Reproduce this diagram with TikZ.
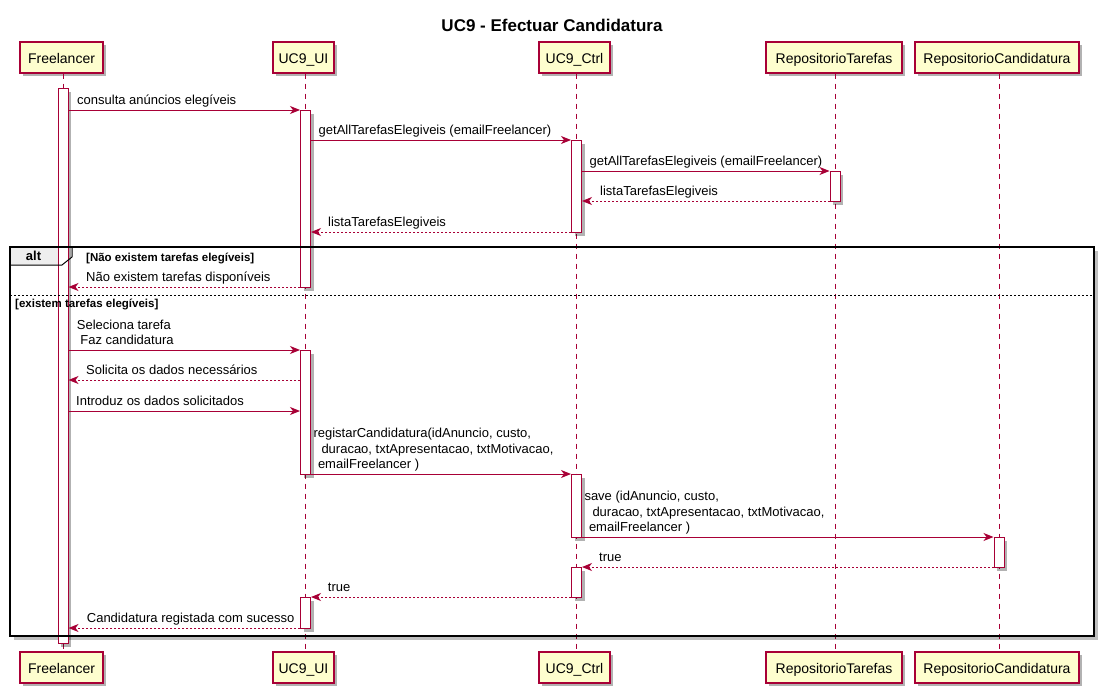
\documentclass[tikz,border=0pt]{standalone}
\usepackage{fontspec}
\setmainfont{Liberation Sans}
\usetikzlibrary{arrows.meta,shadows}
\definecolor{plum}{HTML}{A80036}
\definecolor{partfill}{HTML}{FEFECE}
\definecolor{tabfill}{HTML}{EEEEEE}
\newcommand{\actbar}[4]{\node[act, anchor=north, minimum height={#4-#3}] (#1) at (#2,#3) {};}
\begin{document}
\begin{tikzpicture}[x=1pt,y=-1pt,
  shad/.style={drop shadow={shadow xshift=3pt, shadow yshift=-3pt, opacity=0.3, fill=black}},
  part/.style={draw=plum, line width=1.2pt, fill=partfill, minimum height=31pt, inner sep=0pt,
    text height=11pt, text depth=0pt, font=\fontsize{14}{16}\selectfont, shad},
  act/.style={draw=plum, line width=1pt, fill=white, minimum width=10pt, inner sep=0pt, shad},
  life/.style={draw=plum, line width=0.9pt, dash pattern=on 5pt off 5pt},
  msg/.style={draw=plum, line width=1pt, -{Stealth[length=10pt,width=8pt,inset=3pt]}},
  ret/.style={msg, dash pattern=on 2pt off 2pt},
  lbl/.style={font=\fontsize{13}{15.5}\selectfont, inner sep=0pt, anchor=south west, align=left},
  guard/.style={font=\bfseries\fontsize{11.5}{13}\selectfont, inner sep=0pt, anchor=base west}
]
\useasboundingbox (0,0) rectangle (1106,696);

% title
\node[font=\bfseries\fontsize{17}{20}\selectfont, inner sep=0pt, text height=12pt, text depth=0pt] (title) at (552,25) {UC9 - Efectuar Candidatura};

% lifeline x positions
\coordinate (xF) at (63,0);
\coordinate (xU) at (305.5,0);
\coordinate (xC) at (576.5,0);
\coordinate (xT) at (835,0);
\coordinate (xR) at (999,0);

% participants top
\node[part, minimum width=83pt] (pFt) at (61.5,57.5) {Freelancer};
\node[part, minimum width=61pt] (pUt) at (303.5,57.5) {UC9\_UI};
\node[part, minimum width=71pt] (pCt) at (574.5,57.5) {UC9\_Ctrl};
\node[part, minimum width=136pt] (pTt) at (834,57.5) {RepositorioTarefas};
\node[part, minimum width=164pt] (pRt) at (997,57.5) {RepositorioCandidatura};
% participants bottom
\node[part, minimum width=83pt] (pFb) at (61.5,667.5) {Freelancer};
\node[part, minimum width=61pt] (pUb) at (303.5,667.5) {UC9\_UI};
\node[part, minimum width=71pt] (pCb) at (574.5,667.5) {UC9\_Ctrl};
\node[part, minimum width=136pt] (pTb) at (834,667.5) {RepositorioTarefas};
\node[part, minimum width=164pt] (pRb) at (997,667.5) {RepositorioCandidatura};

% lifelines
\draw[life] (xF |- pFt.south) -- (xF |- pFb.north);
\draw[life] (xU |- pUt.south) -- (xU |- pUb.north);
\draw[life] (xC |- pCt.south) -- (xC |- pCb.north);
\draw[life] (xT |- pTt.south) -- (xT |- pTb.north);
\draw[life] (xR |- pRt.south) -- (xR |- pRb.north);

% frame shadow and tab fill
\draw[black, opacity=0.25, line width=3pt] (14,638.5) -- (1096.5,638.5) -- (1096.5,251);
\fill[tabfill] (10,247) -- (72,247) -- (72,257) -- (62,265) -- (10,265) -- cycle;

% activation bars
\actbar{aF}{63}{88}{643}
\actbar{aU1}{305.5}{110}{287}
\actbar{aU2}{305.5}{350}{474}
\actbar{aU3}{305.5}{597}{628}
\actbar{aC1}{576.5}{140}{232}
\actbar{aC2}{576.5}{474}{537}
\actbar{aC3}{576.5}{567}{597}
\actbar{aT}{835}{171}{201}
\actbar{aR}{999}{537}{567}

% messages
\draw[msg] (aF.east |- 0,110) -- (aU1.west |- 0,110);
\node[lbl] (l1) at (77,109.5) {consulta anúncios elegíveis\strut};

\draw[msg] (aU1.east |- 0,140) -- (aC1.west |- 0,140);
\node[lbl] (l2) at (318.5,139.5) {getAllTarefasElegiveis (emailFreelancer)\strut};

\draw[msg] (aC1.east |- 0,171) -- (aT.west |- 0,171);
\node[lbl] (l3) at (589.5,170.5) {getAllTarefasElegiveis (emailFreelancer)\strut};

\draw[ret] (aT.west |- 0,201) -- (aC1.east |- 0,201);
\node[lbl] (l4) at (600,200.5) {listaTarefasElegiveis\strut};

\draw[ret] (aC1.west |- 0,232) -- (aU1.east |- 0,232);
\node[lbl] (l5) at (328,231.5) {listaTarefasElegiveis\strut};

\draw[ret] (aU1.west |- 0,287) -- (aF.east |- 0,287);
\node[lbl] (l6) at (86,286.5) {Não existem tarefas disponíveis\strut};

\draw[msg] (aF.east |- 0,350) -- (aU2.west |- 0,350);
\node[lbl] (l7) at (76.7,349.5) {Seleciona tarefa\strut\\\hspace*{3.5pt}Faz candidatura\strut};

\draw[ret] (aU2.west |- 0,380) -- (aF.east |- 0,380);
\node[lbl] (l8) at (86,379.5) {Solicita os dados necessários\strut};

\draw[msg] (aF.east |- 0,411) -- (aU2.west |- 0,411);
\node[lbl] (l9) at (76,410.5) {Introduz os dados solicitados\strut};

\draw[msg] (aU2.east |- 0,474) -- (aC2.west |- 0,474);
\node[lbl] (l10) at (313.3,473.5) {registarCandidatura(idAnuncio, custo,\strut\\\hspace*{8pt}duracao, txtApresentacao, txtMotivacao,\strut\\\hspace*{4.5pt}emailFreelancer )\strut};

\draw[msg] (aC2.east |- 0,537) -- (aR.west |- 0,537);
\node[lbl] (l11) at (584.3,536.5) {save (idAnuncio, custo,\strut\\\hspace*{8pt}duracao, txtApresentacao, txtMotivacao,\strut\\\hspace*{4.5pt}emailFreelancer )\strut};

\draw[ret] (aR.west |- 0,567) -- (aC3.east |- 0,567);
\node[lbl] (l12) at (599,566.5) {true\strut};

\draw[ret] (aC3.west |- 0,597) -- (aU3.east |- 0,597);
\node[lbl] (l13) at (327.7,596.5) {true\strut};

\draw[ret] (aU3.west |- 0,628) -- (aF.east |- 0,628);
\node[lbl] (l14) at (86.7,627.5) {Candidatura registada com sucesso\strut};

% alt frame
\draw[black, line width=1.5pt] (10,247) rectangle (1094,636);
\draw[black, line width=1pt] (72,247) -- (72,257) -- (62,265) -- (10,265);
\node[font=\bfseries\fontsize{13}{15}\selectfont, inner sep=0pt, text height=9.5pt, text depth=0pt] (altlbl) at (33.5,256) {alt};
\node[guard] (g1) at (86,261) {[Não existem tarefas elegíveis]};
\draw[black, line width=1pt, dash pattern=on 2pt off 2pt] (10,295) -- (1094,295);
\node[guard] (g2) at (15,307) {[existem tarefas elegíveis]};
\end{tikzpicture}
\end{document}
